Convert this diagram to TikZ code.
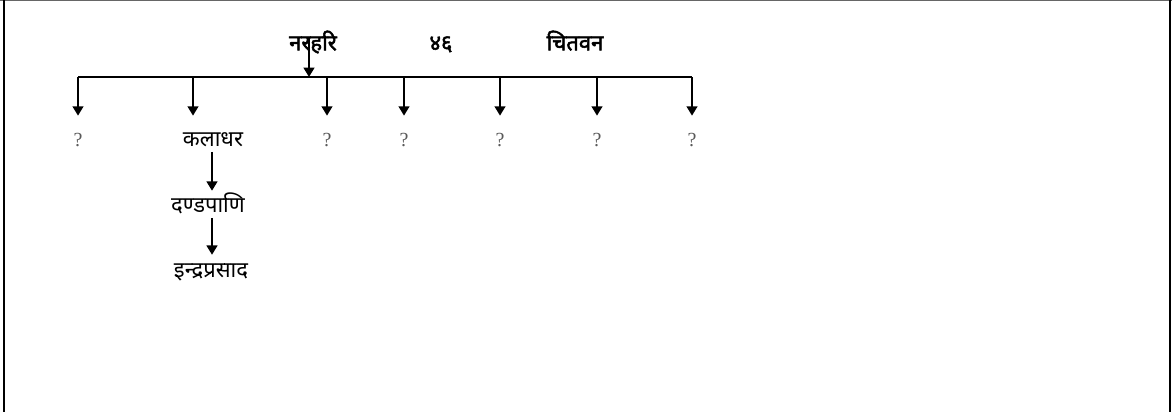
\documentclass[tikz,border=0pt]{standalone}
\usepackage{fontspec}
\setmainfont{Liberation Serif}
\newfontfamily\devfont[Script=Devanagari]{Noto Sans}
\newfontfamily\devbold[Script=Devanagari, FakeBold=2.2]{Noto Sans}
\usetikzlibrary{arrows.meta, positioning}
\definecolor{qgray}{RGB}{90,90,90}

\tikzset{
  child/.style={text height=12pt, text depth=4pt, inner sep=0pt},
  person/.style={child, font=\devfont\fontsize{16.5}{18}\selectfont},
  head/.style={child, font=\devbold\fontsize{16.5}{18}\selectfont},
  unknown/.style={child, font=\fontsize{15}{17}\selectfont, text=qgray},
  link/.style={line width=1.6pt, -{Triangle[width=8pt,length=7pt]}},
  bar/.style={line width=1.6pt}
}

\begin{document}
\begin{tikzpicture}[x=0.75pt, y=-0.75pt]
  \useasboundingbox (0,0) rectangle (1173,412);
  % frame
  \draw[line width=0.8pt, black!60] (0,0.8) -- (1172,0.8);
  \draw[line width=1.5pt] (4,0) -- (4,412);
  \draw[line width=1.5pt] (1170,0) -- (1170,412);

  % head line
  \node[head] (narahari) at (313,45) {नरहरि};
  \node[head] (age) at (441,45) {४६};
  \node[head] (chitwan) at (575,45) {चितवन};

  \coordinate (barL) at (78,77);
  \coordinate (barR) at (692,77);
  \draw[bar] (barL) -- (barR);
  \coordinate (drop) at (309,38);
  \draw[link] (drop) -- (drop |- barL);

  % children
  \foreach \x/\name in {78/sonA, 327/sonC, 404/sonD, 500/sonE, 597/sonF, 692/sonG}
    \node[unknown] (\name) at (\x,141) {?};
  \node[person] (kaladhar) at (213,141) {कलाधर};
  \coordinate (kalTop) at (193,77);
  \foreach \name in {sonA, sonC, sonD, sonE, sonF, sonG}
    \draw[link, shorten >=10.8pt] (\name.north |- barL) -- (\name.north);
  \draw[link, shorten >=10.8pt] (kalTop) -- (kalTop |- kaladhar.north);

  % line of kaladhar
  \node[person] (dandapani) at (208,207) {दण्डपाणि};
  \node[person] (indraprasad) at (211,272) {इन्द्रप्रसाद};
  \draw[link, shorten >=4pt] (212,0 |- kaladhar.south) -- (212,0 |- dandapani.north);
  \draw[link, shorten >=4.7pt] (212,0 |- dandapani.south) -- (212,0 |- indraprasad.north);
\end{tikzpicture}
\end{document}
